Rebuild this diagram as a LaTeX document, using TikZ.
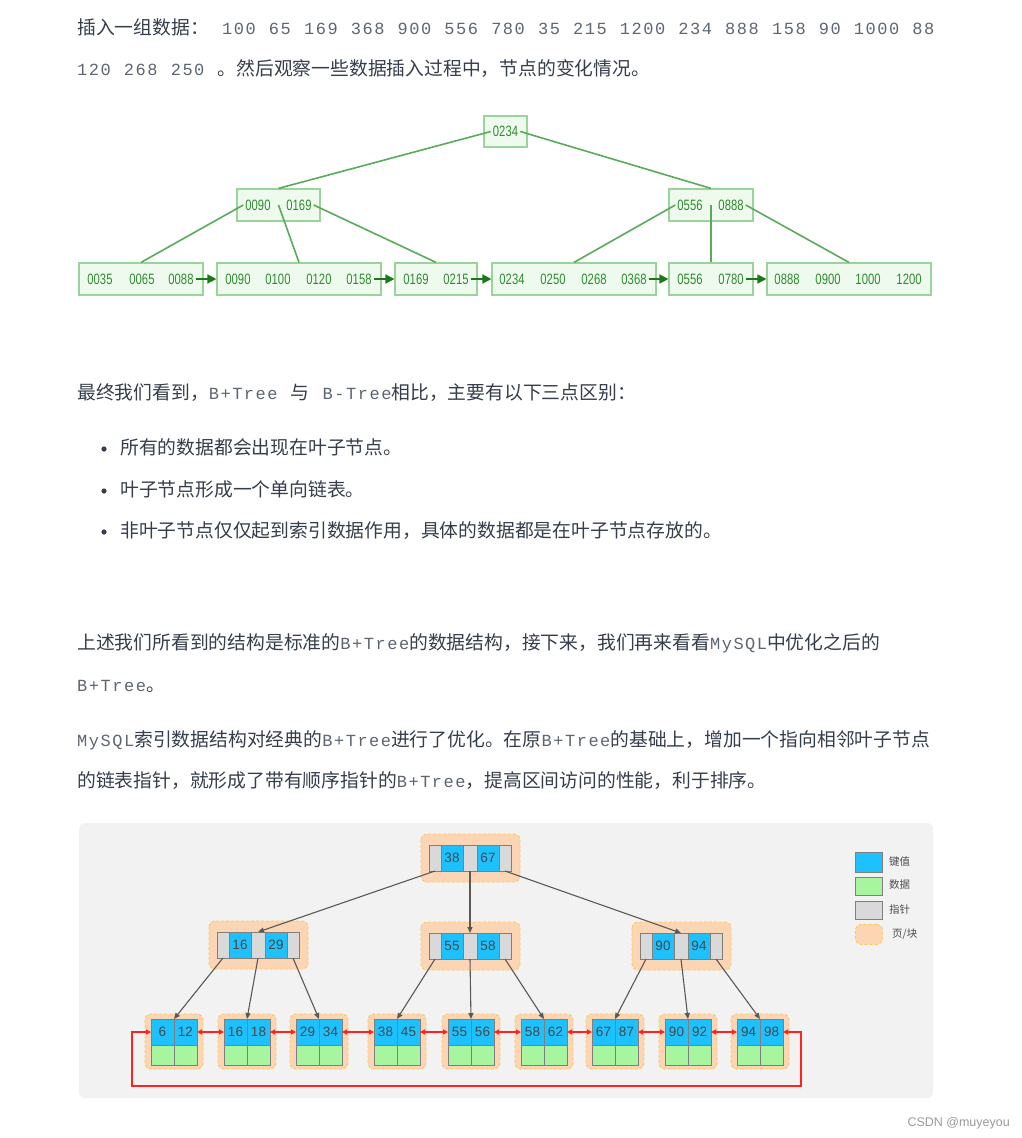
\documentclass[tikz,border=0pt]{standalone}
\usepackage{fontspec}
\setmainfont{Noto Sans CJK SC}
\setmonofont[LetterSpace=9, WordSpace=1.12]{Liberation Mono}
\newfontfamily\keyfont{Liberation Sans}
\newfontfamily\narrowfont[FakeStretch=0.75]{Liberation Sans}
\usetikzlibrary{arrows.meta}

\definecolor{txt}{HTML}{353E4B}
\definecolor{codegray}{HTML}{5E6672}
\definecolor{gfill}{HTML}{EEFAEE}
\definecolor{gboxedge}{HTML}{9AD49A}
\definecolor{gtext}{HTML}{2E8B2E}
\definecolor{gline}{HTML}{5AAA5A}
\definecolor{gtip}{HTML}{0A6E0A}
\definecolor{panel}{HTML}{F2F2F2}
\definecolor{keyblue}{HTML}{1CC1FE}
\definecolor{datagreen}{HTML}{A8F5A0}
\definecolor{ptrgray}{HTML}{D9D9D9}
\definecolor{celledge}{HTML}{7F7F7F}
\definecolor{pagefill}{HTML}{FCD5B4}
\definecolor{pageedge}{HTML}{FFC85A}
\definecolor{linkred}{HTML}{FF2222}
\definecolor{arrowgray}{HTML}{595959}
\definecolor{markgray}{HTML}{9A9A9A}

\newcommand\code[1]{{\color{codegray}\ttfamily\fontsize{17}{20}\selectfont #1}}

\tikzset{
  para/.style={anchor=base west, inner sep=0pt, text=txt, font=\fontsize{18.8}{22}\selectfont},
  gbox/.style={draw=gboxedge, fill=gfill, line width=1.2pt, inner sep=0pt},
  glabel/.style={inner sep=2pt, text=gtext, font=\narrowfont\fontsize{15}{16}\selectfont},
  gtree/.style={draw=gline, line width=1.6pt},
  gnext/.style={draw=gtip!80!gline, line width=1.6pt, -{Triangle[length=9pt,width=9pt]}},
  cell/.style={draw=celledge, line width=0.8pt, inner sep=0pt, outer sep=0pt, anchor=north west,
    text=black!72, font=\keyfont\fontsize{13.5}{14}\selectfont},
  keycell/.style={cell, fill=keyblue, minimum height=26pt},
  ptrcell/.style={cell, fill=ptrgray, minimum height=26pt},
  datacell/.style={cell, fill=datagreen, minimum height=20pt},
  pagebox/.style={fill=pagefill, draw=pageedge, dash pattern=on 3pt off 2pt, line width=0.9pt, rounded corners=6pt},
  treearrow/.style={draw=arrowgray, line width=1.1pt, -{Triangle[length=6pt,width=5pt]}},
  redlink/.style={draw=linkred, line width=1.3pt, {Triangle[length=5pt,width=5pt]}-{Triangle[length=5pt,width=5pt]}},
  legendtext/.style={anchor=west, inner sep=0pt, text=black!70, font=\fontsize{10.5}{12}\selectfont}
}

% internal node: name, x, y, key 1, key 2
\newcommand\bnode[5]{%
  \draw[pagebox] (#2-8,#3-11) rectangle (#2+91,#3+37);
  \node[ptrcell, minimum width=12pt] (#1-p0) at (#2,#3) {};
  \node[keycell, minimum width=22pt] (#1-k1) at (#1-p0.north east) {#4};
  \node[ptrcell, minimum width=14pt] (#1-p1) at (#1-k1.north east) {};
  \node[keycell, minimum width=22pt] (#1-k2) at (#1-p1.north east) {#5};
  \node[ptrcell, minimum width=12pt] (#1-p2) at (#1-k2.north east) {};
}
% leaf node: name, x, key 1, key 2
\newcommand\leafnode[4]{%
  \draw[pagebox] (#2-6,1014) rectangle (#2+52,1069);
  \node[keycell, minimum width=23pt] (#1-a) at (#2,1019) {#3};
  \node[keycell, minimum width=23pt] (#1-b) at (#1-a.north east) {#4};
  \node[datacell, minimum width=23pt] (#1-c) at (#1-a.south west) {};
  \node[datacell, minimum width=23pt] (#1-d) at (#1-c.north east) {};
}

\begin{document}
\begin{tikzpicture}[x=1pt,y=-1pt]
\useasboundingbox (0,0) rectangle (1021,1138);
\fill[white] (0,0) rectangle (1021,1138);

% text above
\node[para] (ins) at (77,34) {插入一组数据：};
\node[para] (insdata) at (222,34) {\code{100 65 169 368 900 556 780 35 215 1200 234 888 158 90 1000 88}};
\node[para] (insmore) at (77,75) {\code{120 268 250 }。然后观察一些数据插入过程中，节点的变化情况。};

% B+Tree
\node[gbox, minimum width=43pt, minimum height=31pt] (root) at (505.5,131.5) {};
\node[glabel] (k0234) at (root) {0234};
\node[gbox, minimum width=83pt, minimum height=32pt] (ml) at (278.5,205) {};
\node[glabel] (k0090) at (258,205) {0090};
\node[glabel] (k0169) at (299,205) {0169};
\node[gbox, minimum width=84pt, minimum height=32pt] (mr) at (711,205) {};
\node[glabel] (k0556) at (690,205) {0556};
\node[glabel] (k0888) at (731,205) {0888};

\foreach \c/\w/\n in {141/124/leaf1, 299/164/leaf2, 436/82/leaf3, 574/164/leaf4, 711/84/leaf5, 849/164/leaf6}
  \node[gbox, minimum width=\w pt, minimum height=32pt] (\n) at (\c,279) {};
\foreach \x/\t/\n in {100/0035/a1, 142/0065/a2, 181/0088/e1,
    238/0090/b1, 278/0100/b2, 319/0120/b3, 359/0158/e2,
    416/0169/c1, 456/0215/e3,
    512/0234/d1, 553/0250/d2, 594/0268/d3, 634/0368/e4,
    690/0556/f1, 731/0780/e5,
    787/0888/g1, 828/0900/g2, 868/1000/g3, 909/1200/g4}
  \node[glabel] (\n) at (\x,279) {\t};

\draw[gtree] (k0234.west) -- (ml.north);
\draw[gtree] (k0234.east) -- (mr.north);
\draw[gtree] (k0090.west) -- (leaf1.north);
\draw[gtree] (ml.center) -- (leaf2.north);
\draw[gtree] (k0169.east) -- (leaf3.north);
\draw[gtree] (k0556.west) -- (leaf4.north);
\draw[gtree] (mr.center) -- (leaf5.north);
\draw[gtree] (k0888.east) -- (leaf6.north);
\foreach \a/\b in {e1/leaf2, e2/leaf3, e3/leaf4, e4/leaf5, e5/leaf6}
  \draw[gnext] (\a.east) -- (\b.west);

% text between
\node[para] (diff) at (77,399) {最终我们看到，\code{B+Tree }与\code{ B-Tree}相比，主要有以下三点区别：};
\foreach \y/\t/\n in {454/所有的数据都会出现在叶子节点。/pt1,
    496/叶子节点形成一个单向链表。/pt2,
    537/非叶子节点仅仅起到索引数据作用，具体的数据都是在叶子节点存放的。/pt3}{
  \fill[txt] (104,\y-5) circle[radius=2.6pt];
  \node[para] (\n) at (120,\y) {\t};
}
\node[para] (std1) at (77,649) {上述我们所看到的结构是标准的\code{B+Tree}的数据结构，接下来，我们再来看看\code{MySQL}中优化之后的};
\node[para] (std2) at (77,691) {\code{B+Tree}。};
\node[para] (opt1) at (77,746) {\code{MySQL}索引数据结构对经典的\code{B+Tree}进行了优化。在原\code{B+Tree}的基础上，增加一个指向相邻叶子节点};
\node[para] (opt2) at (77,787) {的链表指针，就形成了带有顺序指针的\code{B+Tree}，提高区间访问的性能，利于排序。};

% MySQL B+Tree
\fill[panel, rounded corners=6pt] (79,823) rectangle (933,1098);
\bnode{top}{429}{845}{38}{67}
\bnode{ml}{217}{932}{16}{29}
\bnode{mc}{429}{933}{55}{58}
\bnode{mr}{640}{933}{90}{94}
\leafnode{l1}{151}{6}{12}
\leafnode{l2}{224}{16}{18}
\leafnode{l3}{296}{29}{34}
\leafnode{l4}{374}{38}{45}
\leafnode{l5}{448}{55}{56}
\leafnode{l6}{521}{58}{62}
\leafnode{l7}{592}{67}{87}
\leafnode{l8}{665}{90}{92}
\leafnode{l9}{737}{94}{98}

\draw[treearrow] (top-p0.south) -- (ml-p1.north);
\draw[treearrow] (top-p1.south) -- (mc-p1.north);
\draw[treearrow] (top-p2.south) -- (mr-p1.north);
\foreach \m/\a/\b/\c in {ml/l1/l2/l3, mc/l4/l5/l6, mr/l7/l8/l9}{
  \draw[treearrow] (\m-p0.south) -- (\a-a.north east);
  \draw[treearrow] (\m-p1.south) -- (\b-a.north east);
  \draw[treearrow] (\m-p2.south) -- (\c-a.north east);
}
\foreach \a/\b in {l1/l2, l2/l3, l3/l4, l4/l5, l5/l6, l6/l7, l7/l8, l8/l9}
  \draw[redlink] (\a-b.east) -- (\b-a.west);
\coordinate (loopR) at (801,1086);
\coordinate (loopL) at (132,1086);
\draw[redlink] (l9-b.east) -| (loopR) -- (loopL) |- (l1-a.west);

% legend
\node[keycell, minimum width=27pt, minimum height=20pt] (lgkey) at (855,852) {};
\node[legendtext] (lgkeyt) at (889,862) {键值};
\node[datacell, minimum width=27pt, minimum height=18pt] (lgdata) at (855,877) {};
\node[legendtext] (lgdatat) at (889,885) {数据};
\node[ptrcell, minimum width=27pt, minimum height=18pt] (lgptr) at (855,901) {};
\node[legendtext] (lgptrt) at (889,909) {指针};
\node[pagebox, minimum width=27pt, minimum height=20pt, anchor=north west, inner sep=0pt] (lgpage) at (855,924) {};
\node[legendtext] (lgpaget) at (892,934) {页/块};

\node[anchor=base east, inner sep=0pt, text=markgray, font=\keyfont\fontsize{12.5}{14}\selectfont] (mark) at (1010,1126) {CSDN @muyeyou};
\end{tikzpicture}
\end{document}
